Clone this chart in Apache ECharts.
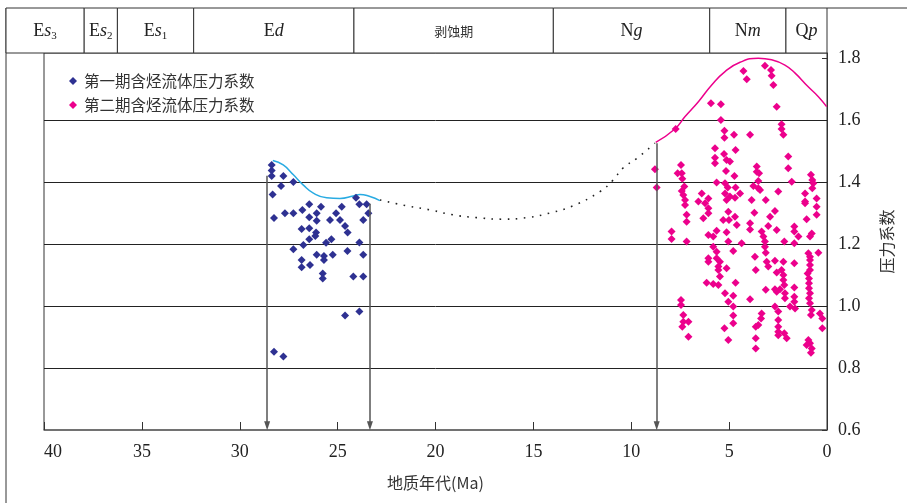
<!DOCTYPE html>
<html>
<head>
<meta charset="utf-8">
<script src="https://cdn.jsdelivr.net/npm/echarts@6/dist/echarts.min.js"></script>
<style>
  html, body { margin: 0; padding: 0; background: #fff; }
  #chart { width: 907px; height: 503px; }
</style>
</head>
<body>
<div id="chart"></div>
<script>
// stage strip on top (Ma boundaries, old -> young)
var stageBounds = [42, 38, 36.3, 32.4, 24.2, 14, 6, 2.1, 0];
var stageNames = ['{r|E}{i|s}{b|3}', '{r|E}{i|s}{b|2}', '{r|E}{i|s}{b|1}', '{r|E}{i|d}',
  '{c|剥蚀期}', '{r|N}{i|g}', '{r|N}{i|m}', '{r|Q}{i|p}'];

// horizontal reference lines and the three arrows
var gridValues = [0.8, 1.0, 1.2, 1.4, 1.6];
var arrowAge = [28.6, 23.35, 8.7];
var arrowTop = [1.42, 1.33, 1.525];
var arrowBase = 0.614;

// first stage points
var blueAge = [28.37, 28.37, 28.37, 27.77, 27.89, 27.26, 28.32, 26.45, 25.85, 24.79, 24.06, 23.89, 23.52, 23.43,
  23.69, 26.80, 28.25, 27.69, 27.26, 26.45, 26.07, 26.07, 25.39, 25.08, 24.88, 24.62, 24.49, 26.84, 26.45, 26.10,
  26.14, 26.45, 26.75, 25.59, 25.32, 23.89, 27.26, 26.07, 25.70, 25.70, 25.25, 24.50, 23.69, 26.84, 26.84, 26.41,
  25.76, 25.76, 24.20, 23.69, 24.62, 23.89, 28.25, 27.77];
var bluePressure = [1.455, 1.437, 1.419, 1.419, 1.387, 1.400, 1.360, 1.328, 1.320, 1.320, 1.349, 1.328, 1.328, 1.299,
  1.277, 1.310, 1.284, 1.299, 1.299, 1.286, 1.299, 1.275, 1.277, 1.299, 1.277, 1.258, 1.237, 1.248, 1.251, 1.237,
  1.226, 1.215, 1.197, 1.204, 1.215, 1.205, 1.183, 1.165, 1.161, 1.148, 1.165, 1.177, 1.165, 1.148, 1.125, 1.132,
  1.105, 1.089, 1.095, 1.095, 0.969, 0.982, 0.852, 0.837];

// second stage points
var pinkAge = [5.93, 5.42, 5.42, 7.73, 5.24, 5.24, 4.75, 5.72, 4.67, 5.26, 5.72, 5.72, 5.13, 4.96, 5.16, 4.73, 8.79,
  8.70, 7.46, 7.63, 7.42, 7.39, 7.29, 7.42, 7.34, 7.25, 5.64, 5.21, 5.07, 4.67, 5.21, 4.96, 4.70, 5.13, 6.40, 6.06,
  6.57, 6.23,
  4.27, 4.10, 3.17, 2.86, 2.83, 2.74, 2.57, 3.93, 2.32, 2.32, 2.23, 1.98, 1.98, 3.59, 3.59, 3.47, 3.51, 3.76, 3.51,
  3.42, 1.80, 0.82, 0.75, 0.70, 0.75, 2.49, 1.12, 0.53, 4.44, 3.85, 3.13, 1.12,
  7.25, 7.17, 7.17, 6.06, 6.06, 6.32, 7.94, 7.94, 7.17, 6.06, 5.81, 5.64, 5.13, 5.30, 5.01, 5.04, 4.70, 4.61, 5.04,
  5.81, 5.64, 4.79, 6.06, 6.06, 5.64, 5.47, 5.55, 5.55, 5.13, 5.47, 6.15, 5.81, 5.55, 4.67, 5.21, 4.79, 5.04, 4.79,
  4.79, 4.79, 5.24, 5.04, 7.46, 7.46, 7.34, 7.34, 7.39, 7.08, 7.08,
  4.36, 3.71, 3.93, 3.93, 3.34, 3.25, 3.17, 3.17, 3.13, 3.00, 2.91, 2.66, 2.57, 2.18, 1.67, 1.67, 1.46, 1.67, 1.12,
  0.53, 0.53, 1.04, 0.78, 0.87, 0.44, 3.68, 3.64, 3.08, 3.00, 2.66, 2.23, 1.67, 2.57, 2.32, 2.23, 2.23, 2.18, 2.40,
  2.66, 2.57, 2.15, 2.15, 3.13, 1.67, 1.67, 1.67, 1.89, 1.63, 3.93, 0.95, 0.87, 0.87, 0.87, 0.87, 0.99, 0.92, 0.92,
  0.92, 0.87, 0.92, 0.87, 0.78, 0.82, 0.36, 0.24, 0.24, 2.66, 2.49, 3.34, 3.37, 3.51, 3.64, 2.49, 2.49, 2.49, 2.49,
  2.18, 2.06, 3.64, 3.64, 0.95, 0.87, 1.04, 0.78, 0.82];
var pinkPressure = [1.654, 1.651, 1.600, 1.571, 1.565, 1.543, 1.552, 1.509, 1.503, 1.490, 1.478, 1.460, 1.471, 1.466,
  1.435, 1.419, 1.441, 1.382, 1.455, 1.428, 1.428, 1.410, 1.385, 1.371, 1.358, 1.342, 1.398, 1.396, 1.382, 1.382,
  1.363, 1.353, 1.349, 1.342, 1.363, 1.347, 1.337, 1.331,
  1.758, 1.731, 1.775, 1.761, 1.743, 1.713, 1.643, 1.552, 1.586, 1.571, 1.552, 1.482, 1.444, 1.450, 1.433, 1.428,
  1.403, 1.387, 1.380, 1.374, 1.401, 1.423, 1.406, 1.396, 1.380, 1.369, 1.363, 1.347, 1.363, 1.342, 1.342, 1.337,
  1.326, 1.294, 1.272, 1.315, 1.299, 1.283, 1.240, 1.216, 1.208, 1.229, 1.224, 1.243, 1.238, 1.277, 1.277, 1.304,
  1.288, 1.261, 1.208, 1.191, 1.175, 1.177, 1.154, 1.143, 1.154, 1.143, 1.127, 1.116, 1.122, 1.095, 1.075, 1.071,
  1.068, 1.075, 1.041, 1.033, 1.014, 0.998, 0.969, 0.944, 0.928, 0.890, 1.019, 1.003, 0.971, 0.949, 0.933, 0.949,
  0.901,
  1.202, 1.301, 1.267, 1.247, 1.240, 1.224, 1.208, 1.191, 1.172, 1.258, 1.288, 1.306, 1.245, 1.208, 1.256, 1.240,
  1.224, 1.202, 1.331, 1.320, 1.294, 1.280, 1.234, 1.224, 1.172, 1.159, 1.116, 1.143, 1.127, 1.146, 1.143, 1.138,
  1.108, 1.116, 1.100, 1.084, 1.068, 1.054, 1.054, 1.046, 1.041, 1.025, 1.052, 1.060, 1.030, 1.014, 0.998, 0.992,
  1.022, 1.170, 1.159, 1.148, 1.132, 1.116, 1.105, 1.089, 1.073, 1.057, 1.041, 1.025, 1.009, 0.987, 0.971, 0.976,
  0.960, 0.928, 0.998, 0.982, 0.976, 0.960, 0.939, 0.933, 0.955, 0.933, 0.917, 0.906, 0.912, 0.896, 0.896, 0.863,
  0.890, 0.880, 0.874, 0.863, 0.849];

// envelope curves
var cyanAge = [28.31, 27.78, 27.26, 26.75, 26.24, 25.56, 24.88, 24.20, 23.86, 23.35, 22.84];
var cyanP = [1.469, 1.455, 1.423, 1.390, 1.364, 1.349, 1.347, 1.355, 1.360, 1.353, 1.340];
var dotAge = [22.84, 21.47, 20.28, 19.11, 17.88, 16.62, 15.34, 14.15, 12.98, 11.60, 10.93, 10.42, 9.70, 8.79];
var dotP = [1.342, 1.323, 1.310, 1.294, 1.285, 1.280, 1.285, 1.300, 1.323, 1.369, 1.406, 1.445, 1.477, 1.525];
var magAge = [8.75, 7.77, 7.25, 6.57, 5.89, 5.21, 4.44, 3.51, 2.83, 2.15, 1.63, 0.96, 0.44, 0.02];
var magP = [1.528, 1.571, 1.611, 1.659, 1.713, 1.756, 1.786, 1.799, 1.794, 1.777, 1.751, 1.707, 1.675, 1.643];

function zip(a, b) {
  return a.map(function (v, i) { return [v, b[i]]; });
}

var serif = '"Liberation Serif", "DejaVu Serif", serif';
var cjk = '"Noto Sans CJK SC", sans-serif';

var stageData = [];
for (var i = 0; i < stageNames.length; i++) {
  stageData.push([stageBounds[i], stageBounds[i + 1], i]);
}

var richStage = {
  r: { fontFamily: serif, fontSize: 18, fill: '#222' },
  i: { fontFamily: serif, fontSize: 18, fontStyle: 'italic', fill: '#222' },
  b: { fontFamily: serif, fontSize: 11, fill: '#222', padding: [10, 0, 0, 0] },
  c: { fontFamily: cjk, fontSize: 13, fill: '#333' }
};

var chart = echarts.init(document.getElementById('chart'), null, { renderer: 'canvas' });

var option = {
  animation: false,
  backgroundColor: '#fff',
  grid: [
    { left: 44, right: 80, top: 53, bottom: 73, show: true, borderColor: '#333', borderWidth: 1 },
    { left: 6, right: 80, top: 8, height: 45 }
  ],
  legend: {
    left: 64, top: 68, orient: 'vertical', itemGap: 8,
    itemWidth: 8, itemHeight: 8,
    data: [
      { name: '第一期含烃流体压力系数', icon: 'diamond' },
      { name: '第二期含烃流体压力系数', icon: 'diamond' }
    ],
    textStyle: { fontFamily: cjk, fontSize: 15.5, color: '#333', lineHeight: 16, padding: [0, 0, 0, 2] }
  },
  xAxis: [
    {
      type: 'value', min: 0, max: 40, interval: 5, inverse: true, gridIndex: 0,
      name: '地质年代(Ma)', nameLocation: 'middle', nameGap: 45,
      nameTextStyle: { fontFamily: cjk, fontSize: 16, color: '#333' },
      axisLine: { show: true, lineStyle: { color: '#666', width: 1.5 } },
      axisTick: { show: true, inside: true, length: 8, lineStyle: { color: '#333' } },
      axisLabel: { fontFamily: serif, fontSize: 18, color: '#222', margin: 13, alignMaxLabel: 'left' },
      splitLine: { show: false }
    },
    {
      type: 'value', min: 0, max: 42, inverse: true, gridIndex: 1, show: false
    }
  ],
  yAxis: [
    {
      type: 'value', min: 0.6, max: 1.816, interval: 0.2, position: 'right', gridIndex: 0,
      name: '压力系数', nameLocation: 'middle', nameGap: 52, nameRotate: 90,
      nameTextStyle: { fontFamily: cjk, fontSize: 16, color: '#333' },
      axisLine: { show: true, lineStyle: { color: '#333', width: 1 } },
      axisTick: { show: true, inside: true, length: 5, lineStyle: { color: '#333' } },
      axisLabel: {
        fontFamily: serif, fontSize: 18, color: '#222', margin: 11, showMaxLabel: false,
        formatter: function (v) { return v.toFixed(1); }
      },
      splitLine: { show: false }
    },
    { type: 'value', min: 0, max: 1, gridIndex: 1, show: false }
  ],
  series: [
    {
      type: 'custom', xAxisIndex: 1, yAxisIndex: 1, silent: true, z: 1,
      data: stageData,
      renderItem: function (params, api) {
        var p0 = api.coord([api.value(0), 1]);
        var p1 = api.coord([api.value(1), 0]);
        var idx = api.value(2);
        return {
          type: 'group',
          children: [
            {
              type: 'rect',
              shape: { x: p0[0], y: p0[1], width: p1[0] - p0[0], height: p1[1] - p0[1] },
              style: { fill: '#fff', stroke: '#333', lineWidth: 1 }
            },
            {
              type: 'text',
              style: {
                x: (p0[0] + p1[0]) / 2, y: (p0[1] + p1[1]) / 2 + 1,
                text: stageNames[idx], rich: richStage,
                align: 'center', verticalAlign: 'middle', fill: '#222'
              }
            }
          ]
        };
      }
    },
    {
      type: 'line', name: 'dots', data: zip(dotAge, dotP), smooth: true, showSymbol: false,
      silent: true, z: 2,
      lineStyle: { color: '#222', width: 1.6, type: [1.6, 6.5] },
      markLine: {
        silent: true, symbol: 'none', z: 1,
        label: { show: false },
        lineStyle: { color: '#222', width: 1, type: 'solid' },
        data: gridValues.map(function (v) { return { yAxis: v }; })
      }
    },
    {
      type: 'line', name: 'cyan', data: zip(cyanAge, cyanP), smooth: true, showSymbol: false,
      silent: true, z: 3,
      lineStyle: { color: '#29ABE2', width: 1.5 },
      markLine: {
        silent: true, symbol: ['none', 'triangle'], symbolSize: [6, 9],
        label: { show: false },
        lineStyle: { color: '#555', width: 1.5, type: 'solid' },
        data: arrowAge.map(function (a, k) {
          return [{ coord: [a, arrowTop[k]] }, { coord: [a, arrowBase] }];
        })
      }
    },
    {
      type: 'line', name: 'magenta', data: zip(magAge, magP), smooth: true, showSymbol: false,
      silent: true, z: 3,
      lineStyle: { color: '#EC008C', width: 1.5 }
    },
    {
      type: 'scatter', name: '第一期含烃流体压力系数', data: zip(blueAge, bluePressure),
      symbol: 'diamond', symbolSize: 8, z: 4,
      itemStyle: { color: '#2E3192', opacity: 1 }
    },
    {
      type: 'scatter', name: '第二期含烃流体压力系数', data: zip(pinkAge, pinkPressure),
      symbol: 'diamond', symbolSize: 8, z: 4,
      itemStyle: { color: '#EC008C', opacity: 1 }
    }
  ],
  graphic: [
    { type: 'line', shape: { x1: 827, y1: 8, x2: 907, y2: 8 }, style: { stroke: '#333', lineWidth: 1 } },
    { type: 'line', shape: { x1: 6, y1: 8, x2: 6, y2: 503 }, style: { stroke: '#333', lineWidth: 1 } }
  ]
};

chart.setOption(option);
window.addEventListener('resize', chart.resize);
</script>
</body>
</html>
